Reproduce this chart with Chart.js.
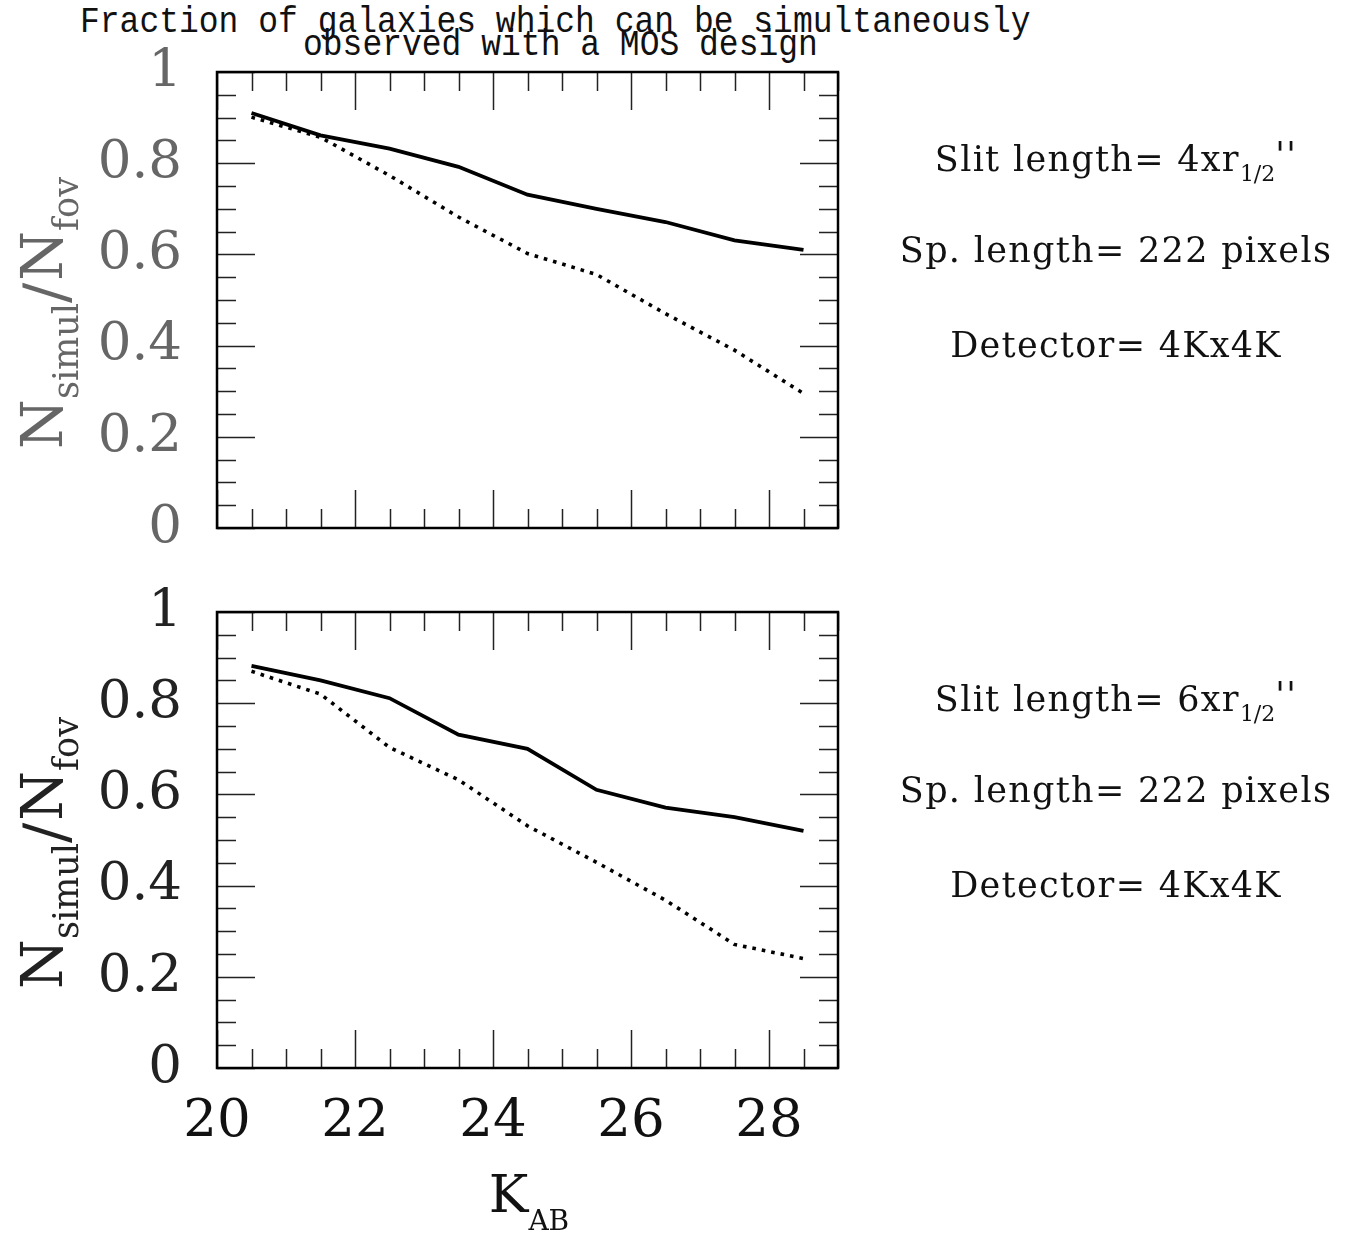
<!DOCTYPE html>
<html>
<head>
<meta charset="utf-8">
<title>Fraction of galaxies observed simultaneously with a MOS design</title>
<script src="https://cdn.jsdelivr.net/npm/chart.js@4.4.1/dist/chart.umd.min.js"></script>
<style>
    html, body { margin: 0; padding: 0; background: #fff; }
    #page { position: relative; width: 1349px; height: 1235px; overflow: hidden; }
    canvas { position: absolute; left: 0; }
    .title { position: absolute; font-family: "Liberation Mono", monospace; font-size: 33px; line-height: 0; white-space: pre; color: #111; transform-origin: 0 0; transform: scaleY(1.12); }
    .note { position: absolute; left: 880px; width: 472px; text-align: center; font-family: "DejaVu Serif", serif; font-size: 35px; letter-spacing: 1.3px; line-height: 0; white-space: pre; color: #111; }
    .note sub { font-size: 22px; line-height: 0; vertical-align: -10px; letter-spacing: 0; }
    .note .q { vertical-align: 4px; }
</style>
</head>
<body>
<div id="page">
    <div class="title" style="left:80px; top:23px;">Fraction of galaxies which can be simultaneously</div>
    <div class="title" style="left:303px; top:46px;">observed with a MOS design</div>

    <canvas id="topChart" width="1349" height="600" style="top:0"></canvas>
    <canvas id="bottomChart" width="1349" height="695" style="top:540px"></canvas>

    <div class="note" style="top:155px;">Slit length= 4xr<sub>1/2</sub><span class="q">''</span></div>
    <div class="note" style="top:250px;">Sp. length= 222 pixels</div>
    <div class="note" style="top:345px;">Detector= 4Kx4K</div>

    <div class="note" style="top:695px;">Slit length= 6xr<sub>1/2</sub><span class="q">''</span></div>
    <div class="note" style="top:790px;">Sp. length= 222 pixels</div>
    <div class="note" style="top:885px;">Detector= 4Kx4K</div>
</div>
<script>
// K_AB bin centres
const kab = [20.5, 21.5, 22.5, 23.5, 24.5, 25.5, 26.5, 27.5, 28.5];

// slit length 4 x r1/2
const top4Solid = [0.910, 0.861, 0.832, 0.792, 0.731, 0.700, 0.671, 0.631, 0.610];
const top4Dotted = [0.901, 0.857, 0.773, 0.682, 0.602, 0.556, 0.470, 0.390, 0.295];

// slit length 6 x r1/2
const bottom6Solid = [0.882, 0.850, 0.811, 0.731, 0.700, 0.610, 0.571, 0.550, 0.520];
const bottom6Dotted = [0.870, 0.820, 0.703, 0.632, 0.531, 0.451, 0.368, 0.271, 0.240];

const xMin = 20, xMax = 29;
const yMin = 0, yMax = 1;

const toPoints = (vals) => kab.map((k, i) => ({ x: k, y: vals[i] }));

const isMajorX = (v) => Math.round(v * 2) % 4 === 0;
const isMajorY = (v) => Math.round(v * 20) % 4 === 0;

// PGPLOT-like box with inward ticks on all four sides
const frameTicks = {
    id: 'frameTicks',
    afterDatasetsDraw(chart) {
        const { ctx, chartArea: a, scales: { x, y } } = chart;
        ctx.save();
        ctx.strokeStyle = '#222';
        ctx.lineWidth = 1.5;
        ctx.beginPath();
        x.ticks.forEach(t => {
            const px = Math.round(x.getPixelForValue(t.value)) + 0.5;
            const len = isMajorX(t.value) ? 38 : 19;
            ctx.moveTo(px, a.bottom); ctx.lineTo(px, a.bottom - len);
            ctx.moveTo(px, a.top); ctx.lineTo(px, a.top + len);
        });
        y.ticks.forEach(t => {
            const py = Math.round(y.getPixelForValue(t.value)) + 0.5;
            const len = isMajorY(t.value) ? 38 : 19;
            ctx.moveTo(a.left, py); ctx.lineTo(a.left + len, py);
            ctx.moveTo(a.right, py); ctx.lineTo(a.right - len, py);
        });
        ctx.stroke();
        ctx.strokeStyle = '#000';
        ctx.lineWidth = 2.5;
        ctx.strokeRect(a.left, a.top, a.right - a.left, a.bottom - a.top);
        ctx.restore();
    }
};

// draw a run of text pieces with subscripts, starting at x on baseline 0
const drawPieces = (ctx, pieces, startX) => {
    let cx = startX;
    pieces.forEach(p => {
        ctx.font = `${p.size}px "DejaVu Serif"`;
        ctx.fillText(p.text, cx, p.dy);
        cx += ctx.measureText(p.text).width + (p.gap || 0);
    });
};

const piecesWidth = (ctx, pieces) => pieces.reduce((w, p) => {
    ctx.font = `${p.size}px "DejaVu Serif"`;
    return w + ctx.measureText(p.text).width + (p.gap || 0);
}, 0);

const yTitlePieces = [
    { text: 'N', size: 57, dy: 0 },
    { text: 'simul', size: 35, dy: 16 },
    { text: '/', size: 60, dy: 4, gap: 2 },
    { text: 'N', size: 57, dy: 0 },
    { text: 'fov', size: 35, dy: 16 }
];

const xTitlePieces = [
    { text: 'K', size: 53, dy: 0 },
    { text: 'AB', size: 28, dy: 18 }
];

const axisTitles = {
    id: 'axisTitles',
    afterDraw(chart, args, opts) {
        const { ctx, chartArea: a } = chart;
        ctx.save();
        ctx.fillStyle = opts.color;
        ctx.textBaseline = 'alphabetic';
        ctx.textAlign = 'left';
        // rotated y title
        ctx.save();
        ctx.translate(62, (a.top + a.bottom) / 2 + 13);
        ctx.rotate(-Math.PI / 2);
        drawPieces(ctx, yTitlePieces, -piecesWidth(ctx, yTitlePieces) / 2);
        ctx.restore();
        if (opts.showX) {
            ctx.fillStyle = '#111';
            ctx.save();
            ctx.translate((a.left + a.right) / 2 + 1.5, a.bottom + 144);
            drawPieces(ctx, xTitlePieces, -piecesWidth(ctx, xTitlePieces) / 2);
            ctx.restore();
        }
        ctx.restore();
    }
};

const makeChart = (canvasId, solid, dotted, opts) => {
    const ctx = document.getElementById(canvasId).getContext('2d');
    const canvasH = ctx.canvas.height;
    return new Chart(ctx, {
        type: 'line',
        data: {
            datasets: [
                { data: toPoints(solid), borderColor: '#000', borderWidth: 3.8, pointRadius: 0, tension: 0, fill: false },
                { data: toPoints(dotted), borderColor: '#000', borderWidth: 3.6, borderDash: [3.6, 6], borderCapStyle: 'butt', pointRadius: 0, tension: 0, fill: false }
            ]
        },
        options: {
            responsive: false,
            animation: false,
            events: [],
            layout: { padding: { left: 0, top: opts.top, right: 1349 - 838, bottom: 0 } },
            plugins: {
                legend: { display: false },
                tooltip: { enabled: false },
                axisTitles: { color: opts.labelColor, showX: opts.showX }
            },
            scales: {
                x: {
                    type: 'linear',
                    min: xMin,
                    max: xMax,
                    grid: { display: false, drawTicks: false },
                    border: { display: false },
                    ticks: {
                        display: opts.showX,
                        stepSize: 0.5,
                        autoSkip: false,
                        maxRotation: 0,
                        padding: 22,
                        color: '#111',
                        font: { family: 'DejaVu Serif', size: 53 },
                        callback: (v) => (isMajorX(v) && v < xMax) ? String(v) : ''
                    },
                    afterFit: (s) => { s.height = canvasH - opts.bottom; }
                },
                y: {
                    type: 'linear',
                    min: yMin,
                    max: yMax,
                    grid: { display: false, drawTicks: false },
                    border: { display: false },
                    ticks: {
                        stepSize: 0.05,
                        autoSkip: false,
                        padding: 35,
                        color: opts.labelColor,
                        font: { family: 'DejaVu Serif', size: 53 },
                        callback: (v) => isMajorY(v) ? String(Math.round(v * 20) / 20) : ''
                    },
                    afterFit: (s) => { s.width = 217; }
                }
            }
        },
        plugins: [frameTicks, axisTitles]
    });
};

makeChart('topChart', top4Solid, top4Dotted, { top: 72, bottom: 528, labelColor: '#666', showX: false });
makeChart('bottomChart', bottom6Solid, bottom6Dotted, { top: 72, bottom: 528, labelColor: '#222', showX: true });
</script>
</body>
</html>
